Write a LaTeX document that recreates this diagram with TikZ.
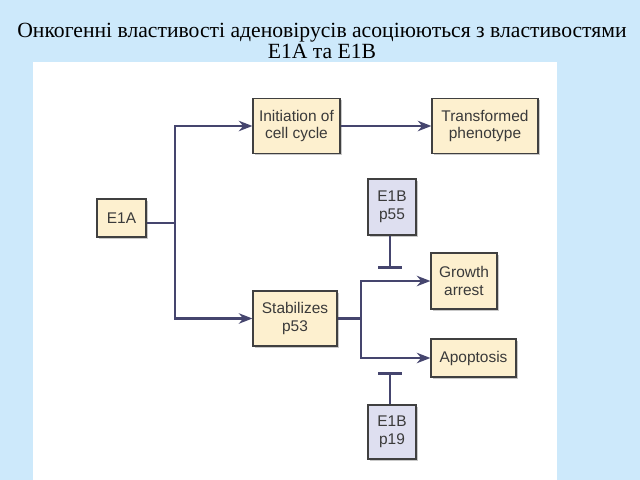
\documentclass[tikz,border=0pt]{standalone}
\usepackage{fontspec}
\setmainfont{Liberation Serif}
\newfontfamily\boxfont{Liberation Sans}
\usetikzlibrary{arrows.meta,shadows}
\definecolor{slidebg}{HTML}{CDE9FB}
\definecolor{boxfill}{HTML}{FDF0CF}
\definecolor{lilac}{HTML}{DEDFF0}
\definecolor{linecol}{HTML}{45456E}
\definecolor{txtcol}{HTML}{3A3A3A}
\tikzset{
  box/.style={draw=black!75, line width=0.8pt, fill=boxfill, align=center,
    inner sep=0pt, text=txtcol, font=\boxfont\fontsize{11}{12.5}\selectfont,
    drop shadow={shadow xshift=1.2pt, shadow yshift=-1.2pt, fill=black!35, opacity=0.6}},
  lilacbox/.style={box, fill=lilac},
  flow/.style={draw=linecol, line width=1.8pt},
  to/.style={flow, -{Stealth[length=3.4mm,width=2.6mm]}},
  block/.style={flow, -{Bar[width=5.75mm,line width=1.8pt]}}
}
\begin{document}
\begin{tikzpicture}[x=0.025cm,y=-0.025cm]
  \fill[slidebg] (0,0) rectangle (640,480);
  \fill[white] (33,62) rectangle (557,480);

  \node[font=\fontsize{15.4}{14.8}\selectfont, align=center] (title) at (322,41)
    {Онкогенні властивості аденовірусів асоціюються з властивостями\\E1A та E1B};

  \node[box, minimum width=1.225cm, minimum height=0.95cm] (e1a) at (121.5,218) {E1A};
  \node[box, minimum width=2.175cm, minimum height=1.375cm] (init) at (296.5,126) {Initiation of\\cell cycle};
  \node[box, minimum width=2.65cm, minimum height=1.375cm] (trans) at (485,126) {Transformed\\phenotype};
  \node[box, minimum width=2.1cm, minimum height=1.375cm] (stab) at (295,318.5) {Stabilizes\\p53};
  \node[box, minimum width=1.65cm, minimum height=1.4cm] (growth) at (464,281) {Growth\\arrest};
  \node[box, minimum width=2.125cm, minimum height=0.95cm] (apop) at (473.5,358) {Apoptosis};
  \node[lilacbox, minimum width=1.2cm, minimum height=1.4cm] (p55) at (392,207) {E1B\\p55};
  \node[lilacbox, minimum width=1.2cm, minimum height=1.35cm] (p19) at (392,432) {E1B\\p19};

  \coordinate (fork) at (175,223);
  \coordinate (split) at (361,318.5);
  \coordinate (stopA) at (390,269);
  \coordinate (stopB) at (390,372);

  \draw[flow] (e1a.east |- fork) -- (fork);
  \draw[to] (fork) |- (init.west);
  \draw[to] (fork) |- (stab.west);
  \draw[to] (init.east) -- (trans.west);
  \draw[flow] (stab.east) -- (split);
  \draw[to] (split) |- (growth.west);
  \draw[to] (split) |- (apop.west);
  \draw[block] (p55.south -| stopA) -- (stopA);
  \draw[block] (p19.north -| stopB) -- (stopB);
\end{tikzpicture}
\end{document}
